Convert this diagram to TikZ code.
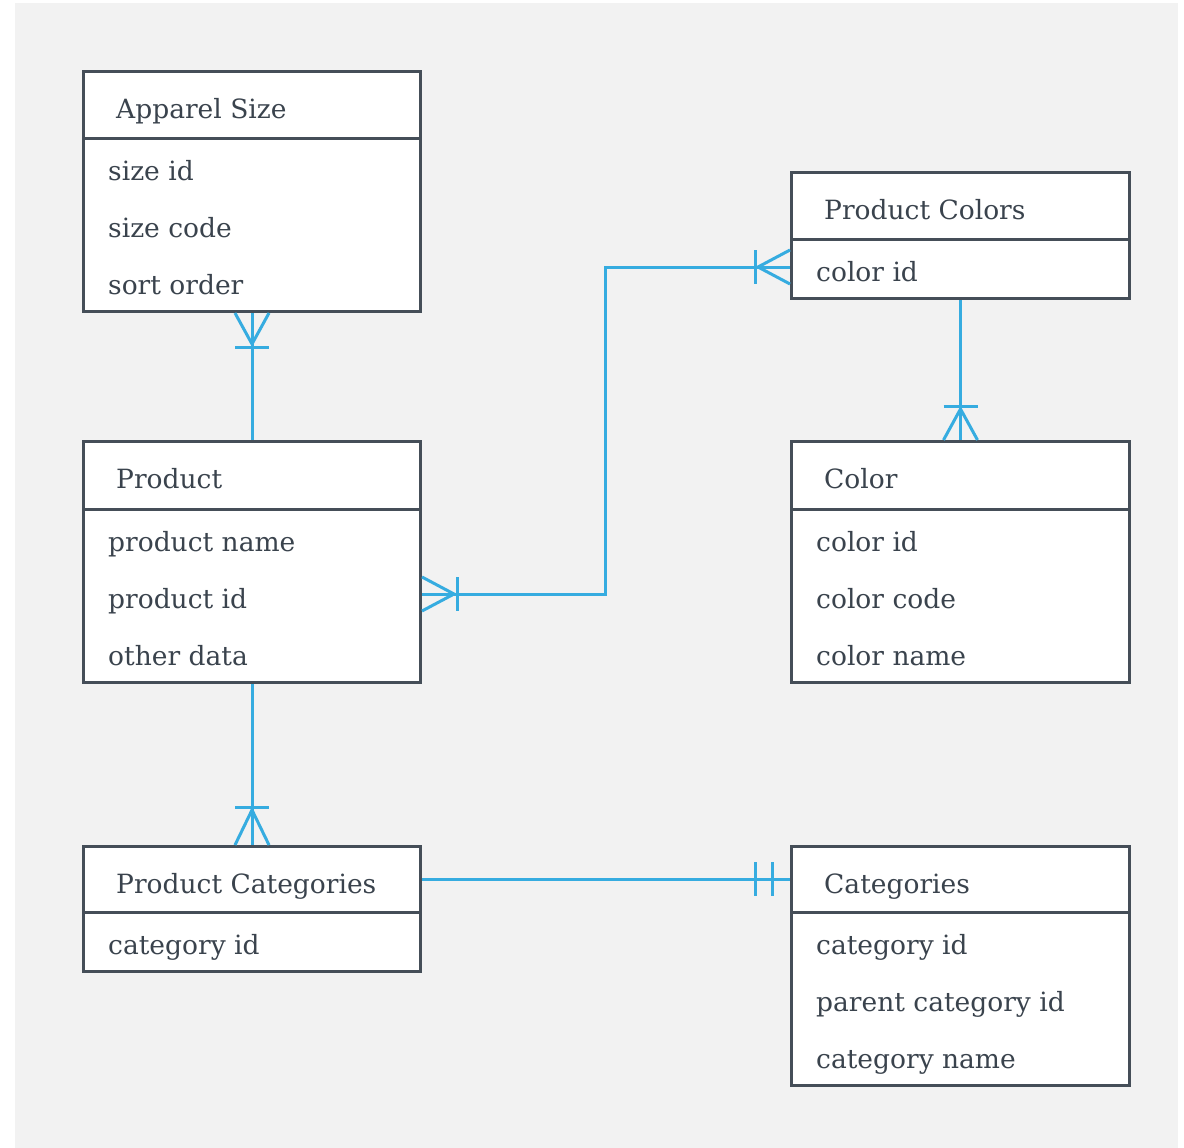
\documentclass[tikz,border=0pt]{standalone}
\usepackage{fontspec}
\setmainfont{DejaVu Serif}
\usetikzlibrary{calc}
\definecolor{bgray}{HTML}{F2F2F2}
\definecolor{boxline}{HTML}{454E58}
\definecolor{txt}{HTML}{3A434D}
\definecolor{rel}{HTML}{36ACE0}
\begin{document}
\begin{tikzpicture}[x=1pt,y=-1pt,
  tbl/.style={draw=boxline,fill=white,line width=3pt,rectangle,inner sep=0pt,anchor=north west,minimum width=337pt},
  divider/.style={draw=boxline,line width=3pt},
  hdr/.style={anchor=base west,inner sep=0pt,text=txt,font=\fontsize{26.5}{31}\selectfont},
  fld/.style={anchor=base west,inner sep=0pt,text=txt,font=\fontsize{26.5}{31}\selectfont},
  relline/.style={draw=rel,line width=3pt},
  cfmark/.style={draw=rel,line width=3pt}
]
\useasboundingbox (0,0) rectangle (1184,1148);
\fill[white] (0,0) rectangle (1184,1148);
\fill[bgray] (15,3) rectangle (1178,1148);

% ---------- tables ----------
\node[tbl,minimum height=240pt] (apparel) at (82,70) {};
\draw[divider] (82,138) -- (419,138);
\node[hdr] (apparel-h) at (116,118) {Apparel Size};
\node[fld] (apparel-1) at (108,180) {size id};
\node[fld] (apparel-2) at (108,237) {size code};
\node[fld] (apparel-3) at (108,294) {sort order};

\node[tbl,minimum height=241pt] (product) at (82,440) {};
\draw[divider] (82,509) -- (419,509);
\node[hdr] (product-h) at (116,488) {Product};
\node[fld] (product-1) at (108,551) {product name};
\node[fld] (product-2) at (108,608) {product id};
\node[fld] (product-3) at (108,665) {other data};

\node[tbl,minimum height=125pt] (pcat) at (82,845) {};
\draw[divider] (82,912) -- (419,912);
\node[hdr] (pcat-h) at (116,893) {Product Categories};
\node[fld] (pcat-1) at (108,954) {category id};

\node[tbl,minimum height=126pt,minimum width=338pt] (pcolors) at (790,171) {};
\draw[divider] (790,239) -- (1128,239);
\node[hdr] (pcolors-h) at (824,219) {Product Colors};
\node[fld] (pcolors-1) at (816,281) {color id};

\node[tbl,minimum height=241pt,minimum width=338pt] (color) at (790,440) {};
\draw[divider] (790,509) -- (1128,509);
\node[hdr] (color-h) at (824,488) {Color};
\node[fld] (color-1) at (816,551) {color id};
\node[fld] (color-2) at (816,608) {color code};
\node[fld] (color-3) at (816,665) {color name};

\node[tbl,minimum height=239pt,minimum width=338pt] (cats) at (790,845) {};
\draw[divider] (790,912) -- (1128,912);
\node[hdr] (cats-h) at (824,893) {Categories};
\node[fld] (cats-1) at (816,954) {category id};
\node[fld] (cats-2) at (816,1011) {parent category id};
\node[fld] (cats-3) at (816,1068) {category name};

% ---------- connectors ----------
% Apparel Size -- Product
\draw[relline] (apparel.south) -- (product.north);
\draw[cfmark] ($(apparel.south)+(-17,0)$) -- ($(apparel.south)+(0,31)$) -- ($(apparel.south)+(17,0)$);
\draw[cfmark] ($(apparel.south)+(-17,34)$) -- ($(apparel.south)+(17,34)$);

% Product -- Product Colors
\coordinate (pe) at ($(product.north east)+(0,154)$);
\coordinate (cw) at ($(pcolors.north west)+(0,96)$);
\draw[relline] (pe) -- (605,594) -- (605,267) -- (cw);
\draw[cfmark] ($(pe)+(0,-17)$) -- ($(pe)+(32,0)$) -- ($(pe)+(0,17)$);
\draw[cfmark] ($(pe)+(35,-17)$) -- ($(pe)+(35,17)$);
\draw[cfmark] ($(cw)+(0,-17)$) -- ($(cw)+(-32,0)$) -- ($(cw)+(0,17)$);
\draw[cfmark] ($(cw)+(-35,-17)$) -- ($(cw)+(-35,17)$);

% Product Colors -- Color
\draw[relline] (pcolors.south) -- (color.north);
\draw[cfmark] ($(color.north)+(-17,0)$) -- ($(color.north)+(0,-31)$) -- ($(color.north)+(17,0)$);
\draw[cfmark] ($(color.north)+(-17,-34)$) -- ($(color.north)+(17,-34)$);

% Product -- Product Categories
\draw[relline] (product.south) -- (pcat.north);
\draw[cfmark] ($(pcat.north)+(-17,0)$) -- ($(pcat.north)+(0,-35)$) -- ($(pcat.north)+(17,0)$);
\draw[cfmark] ($(pcat.north)+(-17,-38)$) -- ($(pcat.north)+(17,-38)$);

% Product Categories -- Categories
\coordinate (pce) at ($(pcat.north east)+(0,34)$);
\coordinate (caw) at ($(cats.north west)+(0,34)$);
\draw[relline] (pce) -- (caw);
\draw[cfmark] ($(caw)+(-35,-17)$) -- ($(caw)+(-35,17)$);
\draw[cfmark] ($(caw)+(-18,-17)$) -- ($(caw)+(-18,17)$);
\end{tikzpicture}
\end{document}
